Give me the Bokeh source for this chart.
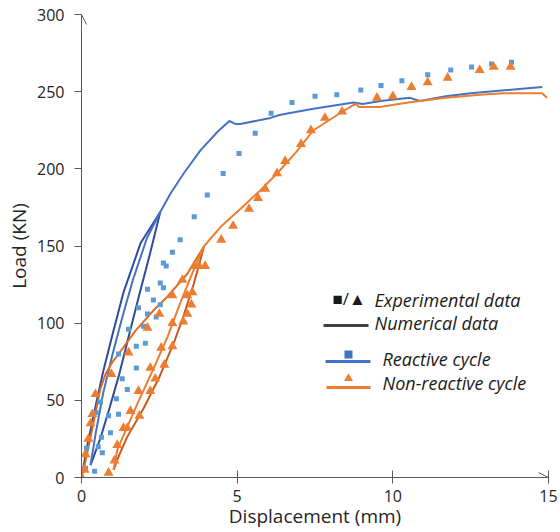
from bokeh.plotting import figure
from bokeh.models import Range1d, FixedTicker, Arrow, OpenHead, Label
from bokeh.embed import file_html
from bokeh.resources import INLINE

# ---------------- data ----------------
react_exp_x = [0, 0.13, 0.42, 0.16, 0.67, 0.54, 0.64, 0.93, 0.87, 1.19, 0.48, 0.61, 1.12, 1.47, 1.31,
               1.76, 1.19, 1.76, 2.05, 1.51, 1.99, 2.40, 2.12, 1.83, 2.53, 2.31, 2.12, 2.63, 2.53, 2.72,
               2.63, 2.92, 3.17, 3.62, 4.04, 4.55, 5.06, 5.58, 6.09, 6.76, 7.5, 8.2, 8.97, 9.62, 10.29,
               11.12, 11.86, 12.53, 13.17, 13.81]
react_exp_y = [0, 6, 4, 19, 16, 20, 26, 29, 40, 41, 42, 49, 51, 57, 64,
               71, 80, 85, 87, 96, 98, 104, 106, 110, 112, 115, 122, 123, 126, 137,
               139, 146, 154, 169, 183, 197, 210, 223, 236, 243, 247, 248, 251, 254, 257,
               261, 264, 266, 268, 269]

nonr_exp_x = [0, 0.1, 0.13, 0.22, 0.29, 0.35, 0.45, 0.87, 1.06, 1.15, 1.35, 1.47, 1.57, 1.86, 1.83,
              2.21, 0.96, 2.21, 2.37, 2.66, 1.51, 2.56, 2.92, 2.12, 2.92, 3.27, 3.4, 2.5, 3.53, 2.92,
              3.4, 3.56, 3.24, 3.62, 3.78, 3.97, 4.49, 4.87, 5.38, 5.67, 5.9, 6.28, 6.54, 7.05, 7.37,
              7.82, 8.37, 9.49, 10.0, 10.6, 11.12, 11.76, 12.79, 13.24, 13.78]
nonr_exp_y = [0, 5, 15, 25, 35, 41, 54, 3, 11, 21, 32, 32, 43, 40, 56,
              56, 67, 71, 64, 73, 81, 84, 85, 97, 100, 101, 106, 106, 112, 118,
              118, 120, 128, 137, 137, 137, 154, 163, 174, 181, 187, 197, 205, 216, 225,
              233, 237, 246, 247, 253, 256, 259, 264, 266, 266]

# numerical, reactive cycle
react_load1_x = [0, 0.2, 0.45, 0.7, 1.0, 1.35, 1.9, 2.53]
react_load1_y = [0, 22, 46, 69, 93, 120, 152, 172]
react_unload_x = [2.53, 2.2, 1.85, 1.5, 1.2, 0.9, 0.6, 0.29]
react_unload_y = [172, 145, 118, 90, 66, 45, 25, 8]
react_reload_x = [0.29, 0.45, 0.7, 1.0, 1.3, 1.65, 2.1, 2.53]
react_reload_y = [8, 28, 55, 80, 103, 128, 155, 172]
react_main_x = [2.53, 2.86, 3.28, 3.82, 4.37, 4.75, 4.95, 5.1, 6.07, 6.39, 7.45, 8.74, 9.03, 9.6,
                10.55, 10.87, 11.7, 12.5, 14.8]
react_main_y = [172, 184, 197, 212, 224, 231, 229, 229, 233, 235, 239, 243, 242, 244,
                246, 244, 247, 249, 253]

# numerical, non-reactive cycle
nonr_load1_x = [0, 0.1, 0.25, 0.45, 0.6, 0.77, 1.0, 1.19, 1.73, 2.3, 2.75, 3.4, 3.94]
nonr_load1_y = [0, 8, 22, 42, 57, 67, 75, 80, 95, 108, 117, 132, 150]
nonr_unload_x = [3.94, 3.6, 3.25, 2.96, 2.5, 2.0, 1.46, 1.2, 1.03]
nonr_unload_y = [150, 125, 103, 87, 65, 45, 26, 14, 5]
nonr_reload_x = [1.03, 1.15, 1.41, 1.8, 2.28, 2.76, 3.17, 3.55, 3.94]
nonr_reload_y = [5, 18, 30, 48, 69, 91, 113, 132, 150]
nonr_main_x = [3.94, 4.5, 5.1, 5.74, 6.28, 6.9, 7.45, 8.3, 8.7, 8.85, 8.9, 9.58, 10.5, 11.7, 12.8,
               13.55, 14.8, 14.95]
nonr_main_y = [150, 163, 174, 186, 197, 211, 225, 236, 241, 242, 240, 240, 243, 246, 248,
               249, 249, 246]

x_ticks = [0, 5, 10, 15]
y_ticks = [0, 50, 100, 150, 200, 250, 300]

# ---------------- styles ----------------
BLUE_PT = "#5B9BD5"
BLUE = "#4472C4"
BLUE_DK = "#2F4C9C"
ORANGE = "#ED7D31"
ORANGE_DK = "#C9581A"
ORANGE_MD = "#E0691F"
AX = "#595959"
FONT = "Open Sans"

X0, X1, Y0, Y1 = 0, 15, 0, 300

p = figure(width=560, height=532, x_range=Range1d(X0, X1), y_range=Range1d(Y0, Y1),
           output_backend="svg", toolbar_location=None,
           min_border_left=81, min_border_right=12, min_border_top=14, min_border_bottom=55)
p.outline_line_color = None
p.grid.grid_line_color = None
p.background_fill_color = "white"

for ax in (p.xaxis[0], p.yaxis[0]):
    ax.axis_line_color = AX
    ax.major_tick_line_color = AX
    ax.minor_tick_line_color = None
    ax.major_label_text_font = FONT
    ax.major_label_text_font_size = "16px"
    ax.major_label_text_color = "#262626"
    ax.axis_label_text_font = FONT
    ax.axis_label_text_font_size = "19px"
    ax.axis_label_text_font_style = "normal"
    ax.axis_label_text_color = "#262626"

p.xaxis.ticker = FixedTicker(ticks=x_ticks)
p.yaxis.ticker = FixedTicker(ticks=y_ticks)
p.xaxis.major_tick_in = 7
p.xaxis.major_tick_out = 6
p.yaxis.major_tick_in = 0
p.yaxis.major_tick_out = 7
p.xaxis.major_label_standoff = 6
p.yaxis.major_label_standoff = 10
p.xaxis.axis_label = "Displacement (mm)"
p.yaxis.axis_label = "Load (KN)"
p.xaxis.axis_label_standoff = -2
p.yaxis.axis_label_standoff = 2

# axis arrow heads
p.add_layout(Arrow(end=OpenHead(size=10, line_color=AX, line_width=1), line_color=AX,
                   x_start=X0, y_start=Y0, x_end=X0, y_end=Y1))
p.add_layout(Arrow(end=OpenHead(size=10, line_color=AX, line_width=1), line_color=AX,
                   x_start=X0, y_start=Y0, x_end=X1, y_end=Y0))

# numerical lines
LW = 2
p.line(react_load1_x, react_load1_y, line_color=BLUE_DK, line_width=LW)
p.line(react_unload_x, react_unload_y, line_color=BLUE_DK, line_width=LW)
p.line(react_reload_x, react_reload_y, line_color=BLUE, line_width=LW)
p.line(react_main_x, react_main_y, line_color=BLUE, line_width=LW)

p.line(nonr_load1_x, nonr_load1_y, line_color=ORANGE_MD, line_width=LW)
p.line(nonr_unload_x, nonr_unload_y, line_color=ORANGE_DK, line_width=LW)
p.line(nonr_reload_x, nonr_reload_y, line_color=ORANGE, line_width=LW)
p.line(nonr_main_x, nonr_main_y, line_color=ORANGE, line_width=LW)

# experimental points
p.scatter(react_exp_x, react_exp_y, marker="square", size=5, fill_color=BLUE_PT, line_color=None)
p.scatter(nonr_exp_x, nonr_exp_y, marker="triangle", size=10, fill_color=ORANGE, line_color=None)

# ---------------- custom legend (positions in pixels of the plot frame) ----------------
SX = (X1 - X0) / 467.0
SY = (Y1 - Y0) / 463.0
def lx(px):
    return X0 + (px - 81) * SX
def ly(py):
    return Y0 + (477 - py) * SY

def leg_text(txt, px, py, style="italic", size="18px"):
    p.add_layout(Label(x=lx(px), y=ly(py), text=txt, text_font=FONT, text_font_size=size,
                       text_font_style=style, text_baseline="middle", text_align="left",
                       text_color="#1a1a1a"))

leg_text("\u25A0/\u25B2", 332, 298, style="normal", size="17px")
leg_text("Experimental data", 374, 299)
leg_text("Numerical data", 374, 322)
leg_text("Reactive cycle", 382, 358)
leg_text("Non-reactive cycle", 382, 382)

p.segment(x0=[lx(323)], y0=[ly(325)], x1=[lx(368)], y1=[ly(325)], line_color="#404040", line_width=3)
p.segment(x0=[lx(325)], y0=[ly(361)], x1=[lx(370)], y1=[ly(361)], line_color=BLUE, line_width=3)
p.segment(x0=[lx(326)], y0=[ly(387)], x1=[lx(370)], y1=[ly(387)], line_color=ORANGE, line_width=3)
p.scatter([lx(348)], [ly(354)], marker="square", size=8, fill_color=BLUE, line_color=None)
p.scatter([lx(348)], [ly(378)], marker="triangle", size=9, fill_color=ORANGE, line_color=None)

open("out.html", "w").write(file_html(p, INLINE))
